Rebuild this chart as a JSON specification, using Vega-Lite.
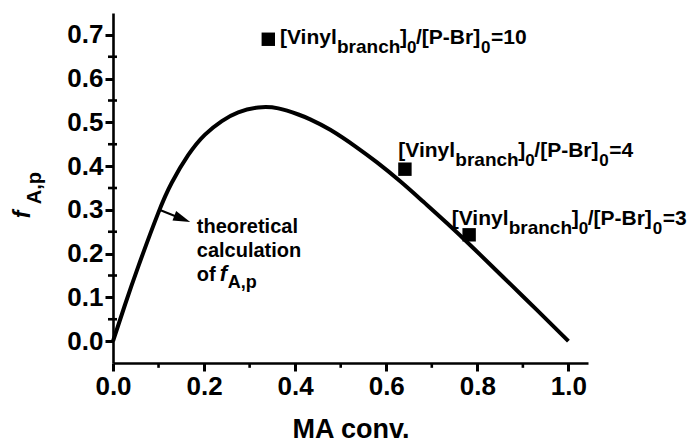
{
  "$schema": "https://vega.github.io/schema/vega-lite/v6.json",
  "autosize": "none",
  "width": 475,
  "height": 350,
  "padding": {"left": 113, "top": 13, "right": 106, "bottom": 80},
  "background": "white",
  "config": {
    "view": {"stroke": null},
    "font": "Liberation Sans",
    "axis": {
      "grid": false,
      "domainColor": "black",
      "domainWidth": 2.6,
      "ticks": true,
      "tickSize": 8,
      "tickWidth": 3,
      "tickColor": "#000000",
      "tickOpacity": 1,
      "labelColor": "black",
      "labelFont": "Liberation Sans",
      "labelFontSize": 26,
      "labelFontWeight": "bold",
      "labelPadding": 2,
      "titleColor": "black",
      "titleFont": "Liberation Sans",
      "titleFontWeight": "bold"
    }
  },
  "datasets": {
    "curve": [
      {"conv": 0.0, "f": 0.0},
      {"conv": 0.026, "f": 0.082},
      {"conv": 0.056, "f": 0.172},
      {"conv": 0.099, "f": 0.292},
      {"conv": 0.129, "f": 0.362},
      {"conv": 0.165, "f": 0.425},
      {"conv": 0.202, "f": 0.472},
      {"conv": 0.239, "f": 0.503},
      {"conv": 0.275, "f": 0.523},
      {"conv": 0.319, "f": 0.534},
      {"conv": 0.363, "f": 0.532},
      {"conv": 0.407, "f": 0.518},
      {"conv": 0.433, "f": 0.507},
      {"conv": 0.477, "f": 0.483},
      {"conv": 0.535, "f": 0.443},
      {"conv": 0.579, "f": 0.409},
      {"conv": 0.630, "f": 0.366},
      {"conv": 0.681, "f": 0.319},
      {"conv": 0.733, "f": 0.270},
      {"conv": 0.791, "f": 0.213},
      {"conv": 0.857, "f": 0.146},
      {"conv": 0.930, "f": 0.072},
      {"conv": 1.0, "f": 0.0}
    ],
    "pts": [
      {"conv": 0.341, "f": 0.690, "lx": 0.3667, "ly": 0.679, "ratio": "=10"},
      {"conv": 0.641, "f": 0.393, "lx": 0.6265, "ly": 0.4208, "ratio": "=4"},
      {"conv": 0.782, "f": 0.243, "lx": 0.7437, "ly": 0.2665, "ratio": "=3"}
    ],
    "minorY": [{"v": 0.05}, {"v": 0.15}, {"v": 0.25}, {"v": 0.35}, {"v": 0.45}, {"v": 0.55}, {"v": 0.65}],
    "minorX": [{"v": 0.1}, {"v": 0.3}, {"v": 0.5}, {"v": 0.7}, {"v": 0.9}]
  },
  "layer": [
    {
      "data": {"name": "curve"},
      "mark": {"type": "line", "color": "black", "strokeWidth": 4, "interpolate": "natural"},
      "encoding": {
        "x": {
          "field": "conv", "type": "quantitative",
          "scale": {"domain": [0, 1.043], "nice": false, "zero": false},
          "title": "MA conv.",
          "axis": {
            "title": "MA conv.",
            "titleFontSize": 27,
            "titlePadding": 17,
            "values": [0, 0.2, 0.4, 0.6, 0.8, 1.0],
            "format": ".1f",
            "labelFlush": false,
            "labelOverlap": false
          }
        },
        "y": {
          "field": "f", "type": "quantitative",
          "scale": {"domain": [-0.05, 0.75], "nice": false, "zero": false},
          "title": null,
          "axis": {
            "title": null,
            "values": [0, 0.1, 0.2, 0.3, 0.4, 0.5, 0.6, 0.7],
            "format": ".1f",
            "labelFlush": false,
            "labelOverlap": false
          }
        }
      }
    },
    {
      "data": {"name": "minorY"},
      "mark": {"type": "rule", "color": "black", "strokeWidth": 2.6, "xOffset": -5},
      "encoding": {
        "x": {"datum": 0, "type": "quantitative"},
        "x2": {"datum": 0.0088},
        "y": {"field": "v", "type": "quantitative"}
      }
    },
    {
      "data": {"name": "minorX"},
      "mark": {"type": "rule", "color": "black", "strokeWidth": 2.6},
      "encoding": {
        "x": {"field": "v", "type": "quantitative"},
        "y": {"datum": -0.05, "type": "quantitative"},
        "y2": {"datum": -0.0610}
      }
    },
    {
      "data": {"name": "pts"},
      "mark": {"type": "point", "shape": "square", "filled": true, "size": 180, "color": "black", "opacity": 1},
      "encoding": {
        "x": {"field": "conv", "type": "quantitative"},
        "y": {"field": "f", "type": "quantitative"}
      }
    },
    {
      "data": {"name": "pts"},
      "layer": [
        {"mark": {"type": "text", "text": "[Vinyl", "align": "left", "baseline": "alphabetic", "fontSize": 21, "fontWeight": "bold", "color": "black", "dx": 0}},
        {"mark": {"type": "text", "text": "branch", "align": "left", "baseline": "alphabetic", "fontSize": 19, "fontWeight": "bold", "color": "black", "dx": 57, "dy": 9}},
        {"mark": {"type": "text", "text": "]", "align": "left", "baseline": "alphabetic", "fontSize": 21, "fontWeight": "bold", "color": "black", "dx": 120}},
        {"mark": {"type": "text", "text": "0", "align": "left", "baseline": "alphabetic", "fontSize": 17, "fontWeight": "bold", "color": "black", "dx": 127, "dy": 9}},
        {"mark": {"type": "text", "text": "/[P-Br]", "align": "left", "baseline": "alphabetic", "fontSize": 21, "fontWeight": "bold", "color": "black", "dx": 136}},
        {"mark": {"type": "text", "text": "0", "align": "left", "baseline": "alphabetic", "fontSize": 17, "fontWeight": "bold", "color": "black", "dx": 201, "dy": 9}},
        {"mark": {"type": "text", "align": "left", "baseline": "alphabetic", "fontSize": 21, "fontWeight": "bold", "color": "black", "dx": 211},
         "encoding": {"text": {"field": "ratio"}}}
      ],
      "encoding": {
        "x": {"field": "lx", "type": "quantitative"},
        "y": {"field": "ly", "type": "quantitative"}
      }
    },
    {
      "data": {"values": [{}]},
      "layer": [
        {"mark": {"type": "text", "text": ["theoretical", "calculation"], "lineHeight": 24, "align": "left", "baseline": "alphabetic", "fontSize": 20, "fontWeight": "bold", "color": "black"}},
        {"mark": {"type": "text", "text": "of", "align": "left", "baseline": "alphabetic", "fontSize": 20, "fontWeight": "bold", "color": "black", "dy": 48}},
        {"mark": {"type": "text", "text": "f", "align": "left", "baseline": "alphabetic", "fontSize": 22, "fontWeight": "bold", "fontStyle": "italic", "color": "black", "dx": 23, "dy": 48}},
        {"mark": {"type": "text", "text": "A,p", "align": "left", "baseline": "alphabetic", "fontSize": 18, "fontWeight": "bold", "color": "black", "dx": 31, "dy": 55}}
      ],
      "encoding": {
        "x": {"datum": 0.184, "type": "quantitative"},
        "y": {"datum": 0.247, "type": "quantitative"}
      }
    },
    {
      "data": {"values": [{}]},
      "mark": {"type": "rule", "color": "black", "strokeWidth": 2},
      "encoding": {
        "x": {"datum": 0.1032, "type": "quantitative"},
        "y": {"datum": 0.2997, "type": "quantitative"},
        "x2": {"datum": 0.155},
        "y2": {"datum": 0.278}
      }
    },
    {
      "data": {"values": [{}]},
      "mark": {"type": "point", "shape": "M-1,-0.6L1,0L-1,0.6Z", "filled": true, "size": 289, "color": "black", "opacity": 1, "angle": 21},
      "encoding": {
        "x": {"datum": 0.1521, "type": "quantitative"},
        "y": {"datum": 0.2795, "type": "quantitative"}
      }
    },
    {
      "data": {"values": [{}]},
      "layer": [
        {"mark": {"type": "text", "text": "f", "angle": 270, "align": "left", "baseline": "alphabetic", "fontSize": 23, "fontWeight": "bold", "fontStyle": "italic", "color": "black"}},
        {"mark": {"type": "text", "text": "A,p", "angle": 270, "align": "left", "baseline": "alphabetic", "fontSize": 20, "fontWeight": "bold", "color": "black", "dx": 14, "dy": 11}}
      ],
      "encoding": {
        "x": {"datum": -0.1823, "type": "quantitative"},
        "y": {"datum": 0.281, "type": "quantitative"}
      }
    }
  ]
}
